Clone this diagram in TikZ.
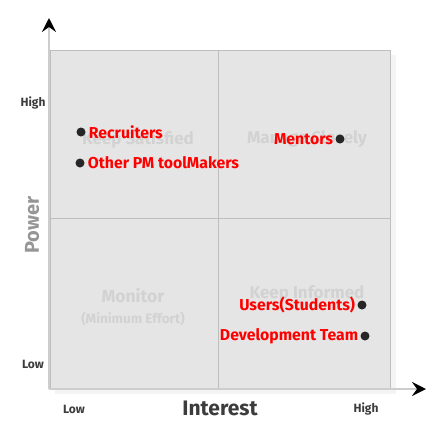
\documentclass[tikz,border=0pt]{standalone}
\usepackage{fontspec}
\setmainfont{Fira Sans}
\usetikzlibrary{arrows.meta, positioning}
\definecolor{gridbg}{RGB}{229,229,229}
\definecolor{gridbd}{RGB}{190,190,190}
\definecolor{shadowbg}{RGB}{244,244,244}
\definecolor{axiscol}{RGB}{205,205,205}
\definecolor{zonecol}{RGB}{210,210,210}
\definecolor{labelcol}{RGB}{60,60,60}
\definecolor{powercol}{RGB}{150,150,150}
\definecolor{whocol}{RGB}{255,0,0}

\begin{document}
\begin{tikzpicture}[
    x=1pt, y=-1pt,
    axis/.style   = {draw=axiscol, line width=2pt,
                     -{Stealth[length=14pt,width=14pt,inset=5pt,color=black]}},
    tick/.style   = {font=\fontsize{12}{14}\selectfont\bfseries, text=labelcol},
    zone/.style   = {font=\fontsize{17}{19}\selectfont\bfseries, text=zonecol,
                     align=center},
    dot/.style    = {circle, fill=black!85, inner sep=0pt, minimum size=9pt},
    who/.style    = {font=\fontsize{15.8}{18}\selectfont\bfseries, text=whocol,
                     inner sep=0pt},
]
\useasboundingbox (0,0) rectangle (440,440);

% ── Grid background ─────────────────────────────────────────────
\fill[shadowbg] (55,55) rectangle (396,394);
\filldraw[fill=gridbg, draw=gridbd, line width=0.8pt] (50,50) rectangle (390,389);
\draw[gridbd, line width=0.8pt] (218,50) -- (218,389);
\draw[gridbd, line width=0.8pt] (50,218) -- (390,218);

% ── Quadrant names ──────────────────────────────────────────────
\node[zone] (satisfied) at (138,139) {Keep Satisfied};
\node[zone] (closely) at (307,139) {Manage Closely};
\node[zone, font=\fontsize{17.5}{20}\selectfont\bfseries] (monitor) at (133,296) {Monitor};
\node[zone, font=\fontsize{13.5}{15}\selectfont\bfseries, below=2pt of monitor] (effort)
    {(Minimum Effort)};
\node[zone] (informed) at (307,294) {Keep Informed};

% ── Axes ────────────────────────────────────────────────────────
\coordinate (origin) at (49,389);
\coordinate (ytip) at (49,18);
\coordinate (xtip) at (426,389);
\draw[axis] (origin) -- (ytip);
\draw[axis] (origin) -- (xtip);

\node[tick] (yhigh) at (33,103) {High};
\node[tick] (ylow) at (33,364) {Low};
\node[tick] (xlow) at (74,409) {Low};
\node[tick] (xhigh) at (366,409) {High};
\node[font=\fontsize{21}{24}\selectfont\bfseries, text=labelcol] (interest)
    at (220,408) {Interest};
\node[font=\fontsize{20}{24}\selectfont\bfseries, text=powercol, rotate=90] (power)
    at (32,225) {Power};

% ── Stakeholders ────────────────────────────────────────────────
\node[dot] (recruiters) at (81,132) {};
\node[who, right=3pt of recruiters] (recruiterslbl) {Recruiters};
\node[dot] (toolmakers) at (80,163) {};
\node[who, right=3pt of toolmakers] (toolmakerslbl) {Other PM toolMakers};
\node[dot] (mentors) at (340,139) {};
\node[who, left=2pt of mentors] (mentorslbl) {Mentors};
\node[dot] (users) at (362,305) {};
\node[who, left=2pt of users] (userslbl) {Users(Students)};
\node[dot] (devteam) at (365,336) {};
\node[who, left=2pt of devteam] (devteamlbl) {Development Team};

\end{tikzpicture}
\end{document}
